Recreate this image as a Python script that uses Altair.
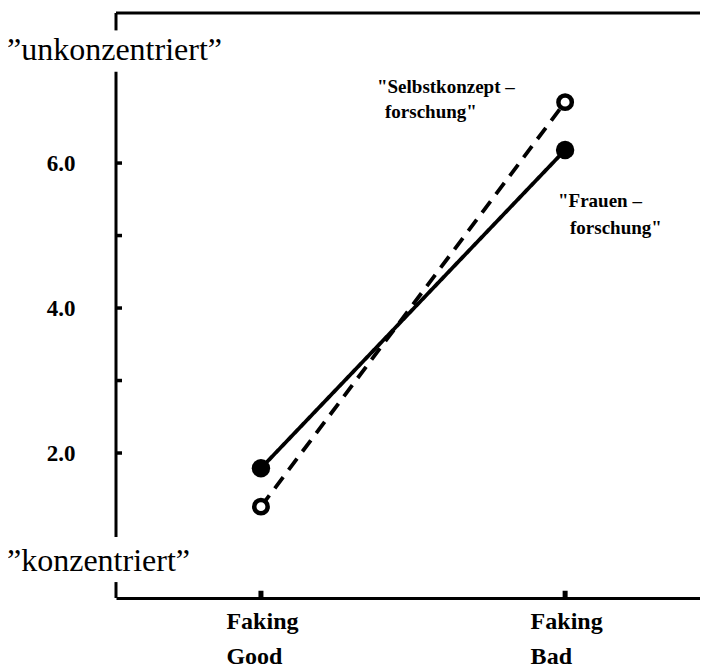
import altair as alt
import pandas as pd

# ---- data ----
conditions = ["Faking Good", "Faking Bad"]
series_names = ["Frauenforschung", "Selbstkonzeptforschung"]
frauen = [1.79, 6.18]
selbst = [1.26, 6.84]
y_tick_values = [2, 3, 4, 5, 6]
y_label_values = [2, 4, 6]
top_label = "\u201dunkonzentriert\u201d"
bottom_label = "\u201dkonzentriert\u201d"
selbst_label = ["\"Selbstkonzept \u2013", "forschung\""]
frauen_label = ["\"Frauen \u2013", "forschung\""]

df = pd.DataFrame({
    "cond": conditions * 2,
    "value": frauen + selbst,
    "series": [series_names[0]] * 2 + [series_names[1]] * 2,
})

FONT = "Liberation Serif"
W, H = 584, 585
YMAX = 8.07

xsc = alt.Scale(type="point", domain=conditions, padding=0.46, align=0.518)
ysc = alt.Scale(domain=[0, YMAX], nice=False, zero=False)

x_axis = alt.Axis(
    labelExpr="split(datum.label, ' ')", labelAlign="left", labelOffset=-35,
    labelPadding=11, labelLineHeight=35, labelFontSize=24, labelFont=FONT,
    labelFontWeight="bold", labelColor="black", ticks=False, domain=True,
    domainColor="black", domainWidth=3, grid=False, labelAngle=0, title=None,
)
y_axis = alt.Axis(
    values=y_label_values, format=".1f", ticks=False, domain=False, grid=False,
    labelPadding=41, labelFont=FONT, labelFontSize=23, labelFontWeight="bold",
    labelColor="black", title=None,
)

def X(field):
    return alt.X(field, scale=xsc, sort=conditions, axis=x_axis, title=None)

def Y(field):
    return alt.Y(field, scale=ysc, axis=y_axis, title=None)

base = alt.Chart(df)

lines = base.mark_line(color="black", strokeWidth=3.8).encode(
    x=X("cond:N"),
    y=Y("value:Q"),
    strokeDash=alt.StrokeDash(
        "series:N",
        scale=alt.Scale(domain=series_names, range=[[1, 0], [14, 9]]),
        legend=None,
    ),
    detail="series:N",
)

filled_pts = base.transform_filter(
    alt.datum.series == series_names[0]
).mark_circle(size=340, color="black", opacity=1).encode(
    x=X("cond:N"), y=Y("value:Q")
)

open_pts = base.transform_filter(
    alt.datum.series == series_names[1]
).mark_point(shape="circle", size=180, filled=True, fill="white",
             stroke="black", strokeWidth=4.5, opacity=1).encode(
    x=X("cond:N"), y=Y("value:Q")
)

# y tick marks pointing inward
yticks = alt.Chart(pd.DataFrame({"t": y_tick_values})).mark_rule(
    color="black", strokeWidth=3.5
).encode(y=Y("t:Q"), x=alt.value(0), x2=alt.value(6))

# x tick bumps above the baseline
xticks = alt.Chart(pd.DataFrame({"cond": conditions, "y0": [0, 0], "y1": [0.1, 0.1]})).mark_rule(
    color="black", strokeWidth=5
).encode(x=X("cond:N"), y=Y("y0:Q"), y2="y1:Q")

# broken left frame line and top frame line
frame_df = pd.DataFrame({"y0": [7.83, 0.84, 0.0], "y1": [YMAX, 7.26, 0.22]})
left_frame = alt.Chart(frame_df).mark_rule(color="black", strokeWidth=3).encode(
    y=Y("y0:Q"), y2="y1:Q", x=alt.value(0)
)
top_frame = alt.Chart(pd.DataFrame({"a": [0]})).mark_rule(color="black", strokeWidth=3).encode(
    y=alt.value(0), x=alt.value(0), x2=alt.value(W)
)

def txt(t, x, y, size, weight="normal"):
    return alt.Chart(pd.DataFrame({"t": [t]})).mark_text(
        align="left", baseline="alphabetic", font=FONT, fontSize=size,
        fontWeight=weight, color="black"
    ).encode(text="t:N", x=alt.value(x), y=alt.value(y))

labels = [
    txt(top_label, -109, 47, 32),
    txt(bottom_label, -109, 558, 32),
    txt(selbst_label[0], 261, 80, 19, "bold"),
    txt(selbst_label[1], 269, 105, 19, "bold"),
    txt(frauen_label[0], 442, 194, 19, "bold"),
    txt(frauen_label[1], 454, 221, 19, "bold"),
]

chart = alt.layer(
    top_frame, left_frame, yticks, xticks, lines, filled_pts, open_pts, *labels
).properties(
    width=W, height=H, autosize="none",
    padding={"left": 108, "top": 5, "right": 0, "bottom": 72},
    background="white",
).configure_view(stroke=None)

chart.save("out.html", embed_options={"renderer": "svg", "actions": False})
